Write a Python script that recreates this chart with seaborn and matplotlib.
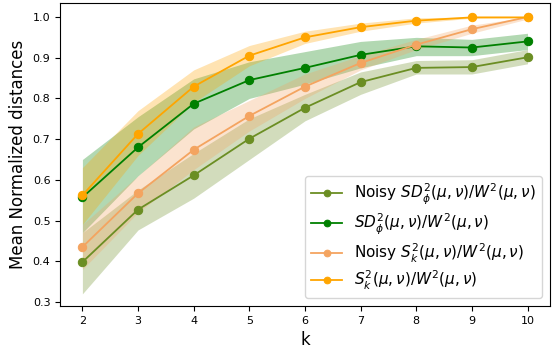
import numpy as np
import pandas as pd
import seaborn as sns
import matplotlib.pyplot as plt

k = [2, 3, 4, 5, 6, 7, 8, 9, 10]

# средние значения
noisy_sd = [0.398, 0.527, 0.611, 0.701, 0.777, 0.840, 0.875, 0.877, 0.901]
sd = [0.557, 0.680, 0.787, 0.845, 0.875, 0.907, 0.928, 0.925, 0.940]
noisy_s = [0.435, 0.567, 0.674, 0.757, 0.829, 0.887, 0.932, 0.970, 1.000]
s = [0.562, 0.713, 0.829, 0.905, 0.950, 0.975, 0.991, 0.999, 0.999]

# границы разброса
noisy_sd_lo = [0.32, 0.477, 0.555, 0.650, 0.745, 0.810, 0.860, 0.860, 0.885]
noisy_sd_hi = [0.47, 0.575, 0.665, 0.750, 0.810, 0.865, 0.893, 0.895, 0.920]
sd_lo = [0.47, 0.610, 0.725, 0.800, 0.835, 0.875, 0.905, 0.905, 0.920]
sd_hi = [0.65, 0.755, 0.848, 0.890, 0.915, 0.940, 0.950, 0.945, 0.960]
noisy_s_lo = [0.38, 0.520, 0.625, 0.720, 0.800, 0.870, 0.920, 0.960, 0.995]
noisy_s_hi = [0.49, 0.610, 0.730, 0.795, 0.860, 0.905, 0.945, 0.980, 1.000]
s_lo = [0.49, 0.660, 0.790, 0.880, 0.935, 0.965, 0.985, 0.997, 0.998]
s_hi = [0.63, 0.770, 0.870, 0.930, 0.965, 0.985, 0.998, 1.000, 1.000]

labels = [r'Noisy $SD_\phi^2(\mu,\nu)/W^2(\mu,\nu)$',
          r'$SD_\phi^2(\mu,\nu)/W^2(\mu,\nu)$',
          r'Noisy $S_k^2(\mu,\nu)/W^2(\mu,\nu)$',
          r'$S_k^2(\mu,\nu)/W^2(\mu,\nu)$']
colors = ['olivedrab', 'green', 'sandybrown', 'orange']
means = [noisy_sd, sd, noisy_s, s]
lows = [noisy_sd_lo, sd_lo, noisy_s_lo, s_lo]
highs = [noisy_sd_hi, sd_hi, noisy_s_hi, s_hi]

fig, ax = plt.subplots(figsize=(5.57, 3.49), dpi=100)

for m, lo, hi, c, lab in zip(means, lows, highs, colors, labels):
    df = pd.DataFrame({'k': k, 'val': m})
    sns.lineplot(data=df, x='k', y='val', marker='o', color=c, label=lab,
                 markeredgecolor=c, markersize=6, linewidth=1.3, ax=ax)
    ax.fill_between(k, lo, hi, color=c, alpha=0.3, linewidth=0)

ax.set_xlabel('k', fontsize=12)
ax.set_ylabel('Mean Normalized distances', fontsize=12)
ax.tick_params(labelsize=8)
ax.set_ylim(0.29, 1.034)
ax.legend(loc='lower right', fontsize=11, labelspacing=0.3, markerscale=0.8)
plt.subplots_adjust(left=0.108, right=0.987, top=0.991, bottom=0.123)
plt.savefig('out.png')
